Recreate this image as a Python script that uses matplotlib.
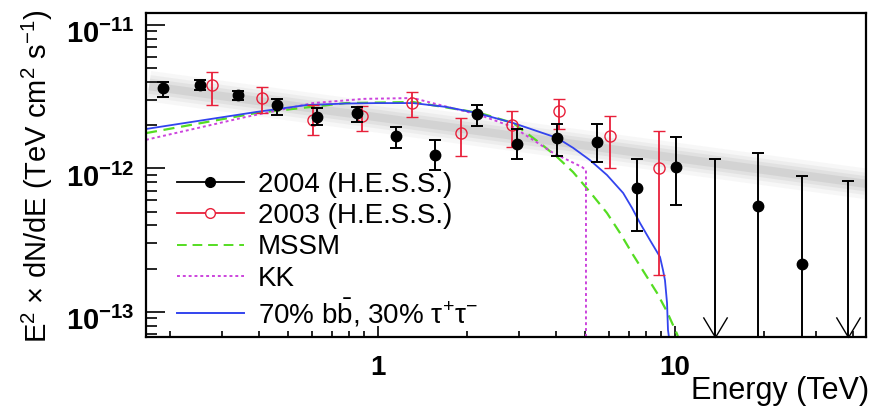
import numpy as np
import matplotlib
matplotlib.use("Agg")
import matplotlib.pyplot as plt
import matplotlib.transforms as mtransforms
from matplotlib.lines import Line2D
from matplotlib.path import Path
from matplotlib.ticker import FixedLocator, LogLocator, NullFormatter

plt.rcParams['font.family'] = ['Liberation Sans', 'DejaVu Sans']
plt.rcParams['mathtext.fontset'] = 'custom'
plt.rcParams['mathtext.rm'] = 'Liberation Sans'
plt.rcParams['mathtext.it'] = 'Liberation Sans:italic'
plt.rcParams['mathtext.bf'] = 'Liberation Sans:bold'
plt.rcParams['mathtext.sf'] = 'Liberation Sans'

# ---- H.E.S.S. 2004 spectrum (TeV, TeV cm^-2 s^-1) ----
e2004 = np.array([0.189, 0.252, 0.339, 0.458, 0.625, 0.852, 1.153, 1.561,
                  2.16, 2.95, 4.02, 5.48, 7.47, 10.1, 19.1, 26.9])
f2004 = np.array([3.63e-12, 3.81e-12, 3.24e-12, 2.76e-12, 2.28e-12, 2.43e-12,
                  1.68e-12, 1.24e-12, 2.39e-12, 1.48e-12, 1.63e-12, 1.53e-12,
                  7.29e-13, 1.02e-12, 5.46e-13, 2.15e-13])
f2004_hi = np.array([4.00e-12, 4.13e-12, 3.46e-12, 3.04e-12, 2.63e-12, 2.68e-12,
                     1.94e-12, 1.58e-12, 2.76e-12, 1.88e-12, 2.04e-12, 2.04e-12,
                     1.16e-12, 1.65e-12, 1.28e-12, 8.84e-13])
f2004_lo = np.array([3.14e-12, 3.52e-12, 2.99e-12, 2.35e-12, 2.00e-12, 2.10e-12,
                     1.39e-12, 9.73e-13, 1.97e-12, 1.16e-12, 1.22e-12, 1.11e-12,
                     3.65e-13, 5.55e-13, 1e-14, 1e-14])

# 2004 upper limits
ul_e = np.array([13.7, 38.4])
ul_f = np.array([1.16e-12, 8.15e-13])
ul_floor = 1e-14

# ---- H.E.S.S. 2003 spectrum ----
e2003 = np.array([0.277, 0.409, 0.606, 0.886, 1.306, 1.91, 2.84, 4.09, 6.06, 8.86])
f2003 = np.array([3.81e-12, 3.09e-12, 2.17e-12, 2.32e-12, 2.85e-12, 1.76e-12,
                  2.00e-12, 2.51e-12, 1.68e-12, 1.00e-12])
f2003_hi = np.array([4.69e-12, 3.69e-12, 2.76e-12, 2.72e-12, 3.40e-12, 2.24e-12,
                     2.51e-12, 3.04e-12, 2.32e-12, 1.82e-12])
f2003_lo = np.array([2.76e-12, 2.43e-12, 1.71e-12, 1.82e-12, 2.28e-12, 1.22e-12,
                     1.41e-12, 1.88e-12, 1.00e-12, 1.80e-13])

# ---- dark-matter annihilation spectra ----
mssm_e = np.array([0.166, 0.390, 0.783, 1.316, 2.21, 2.86, 3.52, 4.02, 4.55,
                   5.19, 5.92, 6.55, 7.24, 8.07, 8.73, 9.43, 10.19, 10.6])
mssm_f = np.array([1.76e-12, 2.43e-12, 2.85e-12, 2.90e-12, 2.43e-12, 2.07e-12,
                   1.50e-12, 1.20e-12, 9.42e-13, 6.83e-13, 4.88e-13, 3.54e-13,
                   2.50e-13, 1.75e-13, 1.35e-13, 1.00e-13, 7.0e-14, 5.5e-14])

kk_e = np.array([0.166, 0.360, 0.606, 0.90, 1.316, 1.55, 2.21, 2.86, 3.90,
                 4.88, 5.03, 5.03])
kk_f = np.array([1.58e-12, 2.28e-12, 2.85e-12, 3.05e-12, 3.09e-12, 2.83e-12,
                 2.35e-12, 1.94e-12, 1.28e-12, 1.02e-12, 9.73e-13, 1e-14])

bt_e = np.array([0.166, 0.390, 0.574, 0.78, 1.0, 1.316, 1.70, 2.16, 2.86, 4.02,
                 4.55, 5.19, 5.92, 6.71, 7.19, 7.65, 8.26, 8.93, 9.14, 9.28,
                 9.43, 9.50, 9.65])
bt_f = np.array([1.88e-12, 2.47e-12, 2.76e-12, 2.83e-12, 2.85e-12, 2.85e-12,
                 2.68e-12, 2.43e-12, 2.07e-12, 1.63e-12, 1.39e-12, 1.14e-12,
                 8.98e-13, 6.73e-13, 5.29e-13, 4.15e-13, 3.16e-13, 2.41e-13,
                 1.95e-13, 1.66e-13, 1.15e-13, 7.45e-14, 5.9e-14])

# power-law fit band
band_e = np.array([0.17, 44.0])
band_f = np.array([3.74e-12, 7.8e-13])

labels = ['2004 (H.E.S.S.)', '2003 (H.E.S.S.)', 'MSSM', 'KK',
          r'70% b$\bar{\mathrm{b}}$, 30% τ$^{+}$τ$^{-}$']

red = '#e8203a'
green = '#55dd22'
magenta = '#cc44dd'
blue = '#3344ee'

xmin, xmax = 0.166, 44.1
ymin, ymax = 6.67e-14, 1.21e-11

fig = plt.figure(figsize=(8.72, 4.11), dpi=100)
ax = fig.add_axes([146 / 872, 74 / 411, 720 / 872, 324 / 411])
ax.set_xscale('log')
ax.set_yscale('log')
ax.set_xlim(xmin, xmax)
ax.set_ylim(ymin, ymax)

# soft grey band
for lw, a in [(22, 0.05), (16, 0.07), (11, 0.09), (6, 0.12)]:
    ax.plot(band_e, band_f, color='0.45', lw=lw, alpha=a,
            solid_capstyle='butt', zorder=1)

# model curves
ax.plot(mssm_e, mssm_f, color=green, lw=1.6, ls=(0, (5, 3)), zorder=2)
ax.plot(kk_e, kk_f, color=magenta, lw=1.4, ls=(0, (1.5, 1.5)), zorder=2)
ax.plot(bt_e, bt_f, color=blue, lw=1.3, zorder=2)

# measurements
ax.errorbar(e2004, f2004, yerr=[f2004 - f2004_lo, f2004_hi - f2004],
            fmt='o', color='k', ms=7.5, elinewidth=1.4, capsize=4, capthick=1.4,
            zorder=4)
ax.errorbar(e2003, f2003, yerr=[f2003 - f2003_lo, f2003_hi - f2003],
            fmt='o', color=red, mfc='none', mec=red, ms=8, mew=1.0,
            elinewidth=1.3, capsize=4, capthick=1.3, zorder=3)

# upper limits with open arrowheads at the axis floor
ax.errorbar(ul_e, ul_f, yerr=[ul_f - ul_floor, np.zeros_like(ul_f)],
            fmt='none', ecolor='k', elinewidth=1.4, capsize=4, capthick=1.4,
            zorder=4)
vhead = Path([(-0.6, 1.0), (0.0, 0.0), (0.6, 1.0)],
             [Path.MOVETO, Path.LINETO, Path.LINETO])
ax.plot(ul_e, np.full_like(ul_e, ymin), ls='none', marker=vhead, ms=29,
        mfc='none', mec='k', mew=1.0, clip_on=False, zorder=5)

# axes styling
for s in ax.spines.values():
    s.set_linewidth(1.6)
ax.xaxis.set_major_locator(FixedLocator([1, 10]))
ax.set_xticklabels(['1', '10'], fontweight='bold', fontsize=20)
ax.xaxis.set_minor_locator(LogLocator(base=10, subs=np.arange(2, 10)))
ax.xaxis.set_minor_formatter(NullFormatter())
ax.yaxis.set_major_locator(FixedLocator([1e-13, 1e-12, 1e-11]))
ax.set_yticklabels([r'$\mathbf{10^{-13}}$', r'$\mathbf{10^{-12}}$',
                    r'$\mathbf{10^{-11}}$'], fontsize=21)
ax.yaxis.set_minor_locator(LogLocator(base=10, subs=np.arange(2, 10)))
ax.yaxis.set_minor_formatter(NullFormatter())
ax.tick_params(which='both', direction='in', top=False, right=False, width=1.2)
ax.tick_params(axis='x', which='major', length=8, pad=13)
ax.tick_params(axis='x', which='minor', length=4)
ax.tick_params(axis='y', which='major', length=14, pad=8)
ax.tick_params(axis='y', which='minor', length=8)

# y labels sit a little below their ticks
shift = mtransforms.ScaledTranslation(0, -5 / 72, fig.dpi_scale_trans)
for lab in ax.get_yticklabels():
    lab.set_transform(lab.get_transform() + shift)

# legend
handles = [Line2D([], [], color='k', lw=1.3, marker='o', ms=7),
           Line2D([], [], color=red, lw=1.3, marker='o', ms=7, mfc='white', mec=red),
           Line2D([], [], color=green, lw=1.4, ls=(0, (5, 3))),
           Line2D([], [], color=magenta, lw=1.4, ls=(0, (1.5, 1.5))),
           Line2D([], [], color=blue, lw=1.4)]
ax.legend(handles, labels, loc='upper left', bbox_to_anchor=(0.043, 0.51),
          frameon=False, fontsize=20, handlelength=2.4, handletextpad=0.5,
          labelspacing=0.19, borderpad=0, borderaxespad=0)

fig.text(37 / 872, 1 - 176 / 411,
         r'E$^{2}$ × dN/dE (TeV cm$^{2}$ s$^{-1}$)',
         rotation=90, ha='center', va='center', fontsize=21)
fig.text(869 / 872, 12 / 411, 'Energy (TeV)', ha='right', va='baseline',
         fontsize=22)

fig.savefig('out.png', dpi=100)
